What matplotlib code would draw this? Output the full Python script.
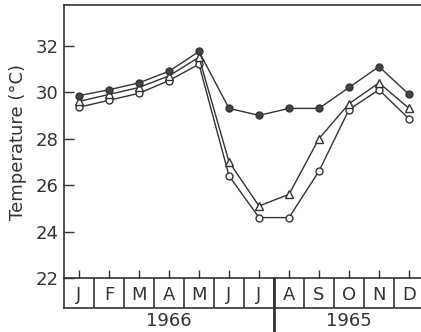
#!/usr/bin/env python3
"""Monthly temperature, three series, with a boxed month row beneath the axis."""
import matplotlib
matplotlib.use("Agg")
import matplotlib.pyplot as plt
import numpy as np

months = ["J", "F", "M", "A", "M", "J", "J", "A", "S", "O", "N", "D"]
years = [("1966", 3.5), ("1965", 9.5)]
filled = [29.85, 30.1, 30.4, 30.9, 31.75, 29.3, 29.0, 29.3, 29.3, 30.2, 31.1, 29.9]
triangle = [29.6, 29.9, 30.2, 30.7, 31.5, 27.0, 25.1, 25.6, 28.0, 29.5, 30.4, 29.3]
circle = [29.35, 29.65, 29.95, 30.5, 31.2, 26.4, 24.6, 24.6, 26.6, 29.25, 30.1, 28.85]

INK = "#333333"
W, H = 421, 332

fig = plt.figure(figsize=(W / 100, H / 100), dpi=100)
plt.rcParams["font.family"] = "DejaVu Sans"

# main axes: pixel box x 64..424, y 5..278 (runs slightly past the right edge)
ax = fig.add_axes([64 / W, (H - 278) / H, 360 / W, 273 / H])
x = np.arange(len(months)) + 0.5
ax.plot(x, circle, "-o", color=INK, lw=1.0, ms=5, mfc="white", mec=INK, mew=1.0)
ax.plot(x, triangle, "-^", color=INK, lw=1.0, ms=5.5, mfc="white", mec=INK, mew=1.0)
ax.plot(x, filled, "-o", color=INK, lw=1.0, ms=5, mfc="#444444", mec=INK, mew=1.0)

ax.set_xlim(0, 12)
ax.set_ylim(22, 33.75)
ax.set_yticks(np.arange(22, 33, 2))
ax.set_xticks(x)
ax.set_xticklabels([])
ax.tick_params(axis="y", direction="in", length=7, width=1, colors=INK,
               labelsize=13, pad=4)
ax.tick_params(axis="x", direction="in", length=6, width=1, colors=INK)
ax.spines["right"].set_visible(False)
for s in ("left", "top", "bottom"):
    ax.spines[s].set_color(INK)
    ax.spines[s].set_linewidth(1.2)
ax.set_ylabel("Temperature (°C)", fontsize=13, color=INK, labelpad=6)

# month row: boxed letters under the axis
axm = fig.add_axes([64 / W, (H - 308) / H, 360 / W, 30 / H])
axm.set_xlim(0, 12)
axm.set_ylim(0, 1)
axm.set_xticks([])
axm.set_yticks([])
axm.patch.set_alpha(0)
for s in ("right", "top"):
    axm.spines[s].set_visible(False)
for s in ("left", "bottom"):
    axm.spines[s].set_color(INK)
    axm.spines[s].set_linewidth(1.2)
for i in range(1, 12):
    axm.axvline(i, color=INK, lw=1.2)
for xi, m in zip(x, months):
    axm.text(xi, 0.45, m, ha="center", va="center", fontsize=13, color=INK)

# year labels and the year divider between Jul and Aug
for label, xc in years:
    axm.text(xc, -0.42, label, ha="center", va="center", fontsize=13,
             color=INK, clip_on=False)
axm.plot([7, 7], [1, -0.85], color=INK, lw=2, clip_on=False)

fig.savefig("out.png", dpi=100)
